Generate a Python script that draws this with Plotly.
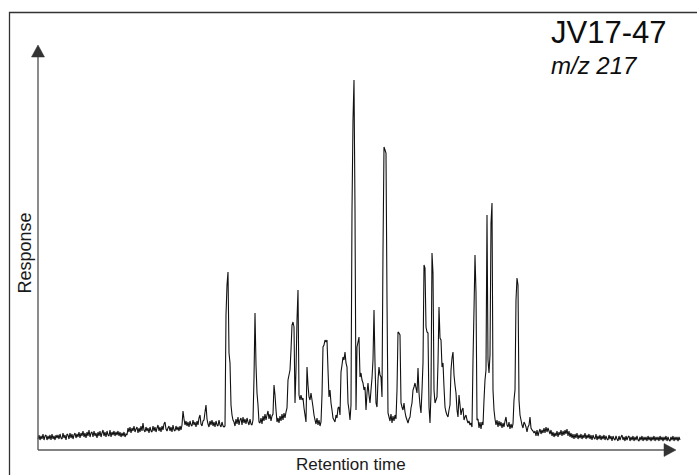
import numpy as np
import plotly.graph_objects as go

# m/z 217 mass chromatogram (sterane fragment), sample JV17-47.
# Abundance in arbitrary units, one value per scan step.

SAMPLE = "JV17-47"
ION = "m/z 217"

early_baseline = [
    11, 15, 10, 14, 11, 16, 10, 14, 15, 10, 14, 11, 15, 10, 16, 11, 14, 10, 15, 12,
    15, 11, 16, 12, 11, 17, 12, 15, 10, 16, 15, 11, 17, 12, 16, 11, 15, 17, 12, 16,
    13, 18, 12, 17, 14, 19, 13, 17, 12, 18, 14, 20, 13, 17, 18, 13, 19, 14, 17, 12,
    18, 14, 19, 13, 17, 20, 14, 18, 13, 19, 15, 14, 20, 13, 18, 15, 19, 14, 18, 15,
    19, 14, 18, 13, 17, 14, 18, 13, 16, 15,
    22, 18, 23, 17, 22, 19, 24, 18, 21, 23, 17, 22, 18, 24, 19, 27, 20, 18, 23, 19,
    22, 17, 23, 19, 18, 24, 19, 23, 18, 22, 25, 19, 23, 18, 24, 20, 26, 28, 21, 19,
    22, 24, 19, 23, 18, 25, 20, 19, 24, 20, 23, 19, 24, 20, 25, 39, 31, 25, 29, 24,
    28, 23, 29, 25, 24, 30, 25, 28, 23, 29, 25, 32, 35, 26, 24, 29, 30, 38, 45, 31,
    26, 23, 29, 25, 30, 24, 28, 23, 29, 25, 24, 30, 25, 23, 28, 24, 23,
]

cluster_a = [
    24, 135, 165, 178, 97, 87, 45, 35, 30,
    28, 24, 31, 26, 33, 25, 30, 32, 25, 33, 27, 31, 26, 32, 28, 25, 31, 26, 25,
    30, 72, 137, 85, 57, 45, 28,
    27, 32, 26, 34, 29, 36, 30, 35, 39, 31, 36, 29, 34, 36,
    65, 55, 40, 28,
    32, 27, 34, 29, 36, 30, 37, 32, 38, 42,
    70, 75, 80, 100, 125, 128, 123, 47, 80, 130, 160, 55,
    50, 55, 50, 52, 42, 35, 28, 83, 65, 53, 50, 57, 50, 43, 35, 30, 26, 32, 25, 30, 24, 28,
    55, 103, 105, 110, 108, 110, 80, 53, 60, 47, 40, 32, 30, 28, 35, 32, 42, 43, 35,
    78, 85, 93, 90, 98, 87, 83, 47, 40, 30,
]

cluster_b = [
    45, 240, 330, 370, 240, 40,
    103, 108, 113, 73, 77, 70, 67, 60, 63, 40, 57,
    67, 55, 47, 60, 72, 90, 140, 87, 47, 43, 70, 83, 75, 73, 53,
    200, 303, 300, 297, 150, 37, 33, 29, 36, 27, 34, 29, 35, 31,
    60, 118, 117, 115, 47, 43, 40, 47, 38, 33, 30, 27, 31, 33, 42, 47,
    60, 63, 67, 62, 57, 82, 57, 45, 37, 60, 87,
    185, 182, 123, 118, 117, 43, 27, 57, 197, 177, 60, 47, 50, 53,
    87, 143, 112, 110, 83, 87, 63, 43, 38, 35, 33, 40,
    45, 80, 92, 98, 75, 65, 57, 40, 33, 55, 45, 35, 40, 42, 30, 33, 35, 30, 27, 29,
    25, 27, 23,
]

cluster_c = [
    90, 140, 195, 157, 30, 31, 22, 28, 21, 28, 25, 50, 70, 80,
    235, 90, 77, 95, 227, 247, 60, 40,
    31, 25, 30, 23, 29, 24, 28, 22, 27, 23, 29, 33, 25, 23, 28, 21, 26, 22, 26,
    50, 60, 150, 172, 165, 50, 35,
    30, 25, 22, 28, 26, 23, 18, 23, 25, 33, 22, 20, 19, 17,
]

late_baseline = [
    19, 14, 20, 14, 18, 21, 16, 20, 17, 22, 17, 23, 18, 22, 19, 16, 20, 14, 18, 13,
    17, 14, 19, 13, 18, 15, 20, 14, 19, 15, 20, 16, 21, 14, 19, 13, 17, 12, 16, 11,
    16, 12, 17, 11, 15, 12, 16, 11, 15, 12, 17, 11, 15, 12, 16, 11, 15, 10, 15, 12,
    11, 16, 10, 14, 11, 15, 10, 14, 11, 15, 10, 14, 11, 10, 15, 11, 14, 9, 14, 11,
    10, 14, 11, 9, 14, 10, 13, 15, 10, 13, 9, 14, 10, 13, 14, 9, 13, 10, 14, 9,
    13, 10, 14, 10, 9, 13, 10, 14, 9, 13, 10, 13, 9, 14, 10, 13, 9, 13, 10, 14,
    9, 13, 10, 13, 9, 14, 10, 13, 9, 13, 10, 14, 9, 13, 10, 9, 13, 10, 14, 9,
    13, 10, 13, 9, 13, 10,
]

response = np.array(
    early_baseline + cluster_a + cluster_b + cluster_c + late_baseline, dtype=float
)
scan = np.arange(response.size, dtype=float)

# axis geometry (data units)
X_MIN, X_MAX = -38, 659
Y_MIN, Y_MAX = -25, 450
X_AXIS_END = 638
Y_AXIS_END = 405
HEAD_LEN, HEAD_HALF = 12, 6.5

FONT = "Liberation Sans, Arial, sans-serif"
AXIS_COLOR = "#5a5a5a"
HEAD_COLOR = "#333333"

fig = go.Figure()
fig.add_trace(
    go.Scatter(
        x=scan,
        y=response,
        mode="lines",
        line=dict(color="#111111", width=1.1, simplify=False),
        hoverinfo="skip",
        showlegend=False,
    )
)

shapes = [
    # outer frame
    dict(type="rect", xref="x", yref="y", x0=-28.5, y0=-60, x1=720, y1=437.5,
         line=dict(color="#333333", width=1.3), layer="below"),
    # x axis line and arrow head
    dict(type="line", xref="x", yref="y", x0=0, y0=0, x1=X_AXIS_END - HEAD_LEN, y1=0,
         line=dict(color=AXIS_COLOR, width=1.4)),
    dict(type="path", xref="x", yref="y",
         path=f"M {X_AXIS_END - HEAD_LEN},{HEAD_HALF} L {X_AXIS_END},0 "
              f"L {X_AXIS_END - HEAD_LEN},{-HEAD_HALF} Z",
         fillcolor=HEAD_COLOR, line=dict(color=HEAD_COLOR, width=0.5)),
    # y axis line and arrow head
    dict(type="line", xref="x", yref="y", x0=0, y0=0, x1=0, y1=Y_AXIS_END - HEAD_LEN,
         line=dict(color=AXIS_COLOR, width=1.4)),
    dict(type="path", xref="x", yref="y",
         path=f"M {-HEAD_HALF},{Y_AXIS_END - HEAD_LEN} L 0,{Y_AXIS_END} "
              f"L {HEAD_HALF},{Y_AXIS_END - HEAD_LEN} Z",
         fillcolor=HEAD_COLOR, line=dict(color=HEAD_COLOR, width=0.5)),
]

annotations = [
    dict(text="Retention time", xref="x", yref="y", x=313, y=-14,
         xanchor="center", yanchor="middle", showarrow=False,
         font=dict(family=FONT, size=17, color="#1a1a1a")),
    dict(text="Response", xref="x", yref="y", x=-13.5, y=197,
         xanchor="center", yanchor="middle", textangle=-90, showarrow=False,
         font=dict(family=FONT, size=18, color="#1a1a1a")),
    dict(text=SAMPLE, xref="x", yref="y", x=511, y=417.5,
         xanchor="left", yanchor="middle", showarrow=False,
         font=dict(family=FONT, size=31, color="#0d0d0d")),
    dict(text=f"<i>{ION}</i>", xref="x", yref="y", x=511, y=384.5,
         xanchor="left", yanchor="middle", showarrow=False,
         font=dict(family=FONT, size=24, color="#0d0d0d")),
]

fig.update_layout(
    width=697,
    height=475,
    margin=dict(l=0, r=0, t=0, b=0),
    paper_bgcolor="white",
    plot_bgcolor="white",
    xaxis=dict(range=[X_MIN, X_MAX], visible=False, fixedrange=True),
    yaxis=dict(range=[Y_MIN, Y_MAX], visible=False, fixedrange=True),
    shapes=shapes,
    annotations=annotations,
    showlegend=False,
)

fig.write_html("out.html")
